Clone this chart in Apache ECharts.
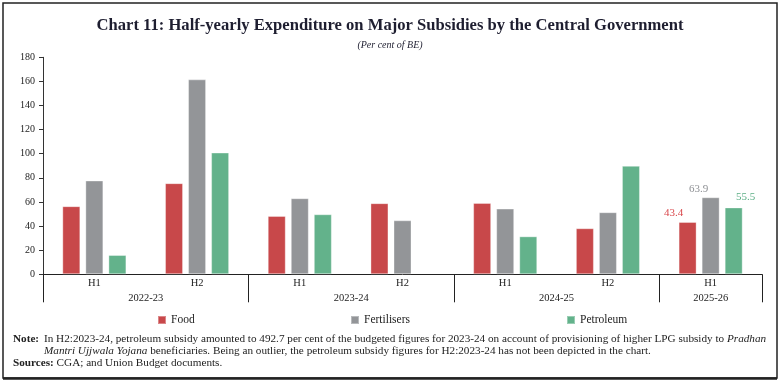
<!DOCTYPE html>
<html>
<head>
<meta charset="utf-8">
<script src="https://cdn.jsdelivr.net/npm/echarts@6/dist/echarts.min.js"></script>
<style>
html,body{margin:0;padding:0;background:#fff;}
#chart{width:780px;height:383px;}
</style>
</head>
<body>
<div id="chart"></div>
<script>
// ---- data ----
var categories = ['H1', 'H2', 'H1', 'H2', 'H1', 'H2', 'H1'];
var yearLabels = ['', '', '2022-23', '', '', '', '2023-24', '', '', '', '2024-25', '', '', '2025-26', ''];
var groupBoundaryIdx = [0, 4, 8, 12, 14];
var food = [56.5, 75.6, 48.4, 59.0, 59.2, 38.2, 43.4];
var fertilisers = [77.8, 161.7, 63.1, 44.8, 54.5, 51.5, 63.9];
var petroleum = [16.0, 101.0, 49.8, null, 31.5, 90.0, 55.5];
var yTicks = [0, 20, 40, 60, 80, 100, 120, 140, 160, 180];
var labelledIndex = 6;

var FONT = '"Liberation Serif", "DejaVu Serif", serif';
var NOTE_SIZE = 11.2;
var colors = {food: '#C8484A', fert: '#939598', petrol: '#63B28B'};

function mk(vals, color, offset, dist) {
  return vals.map(function (v, i) {
    if (i === labelledIndex && v != null) {
      return {value: v, label: {show: true, position: 'top', distance: dist, offset: offset,
        color: color, fontFamily: FONT, fontSize: 11, formatter: function (p) { return p.value.toFixed(1); }}};
    }
    return v;
  });
}

var chart = echarts.init(document.getElementById('chart'), null, {renderer: 'canvas'});
var option = {
  animation: false,
  backgroundColor: '#fff',
  title: [
    {text: 'Chart 11: Half-yearly Expenditure on Major Subsidies by the Central Government',
     left: 'center', top: 12, textStyle: {fontFamily: FONT, fontWeight: 'bold', fontSize: 16.6, color: '#1e1e30'}},
    {text: '(Per cent of BE)', left: 'center', top: 35,
     textStyle: {fontFamily: FONT, fontStyle: 'italic', fontWeight: 'normal', fontSize: 10, color: '#1e1e30'}}
  ],
  grid: {left: 43, right: 18, top: 57.3, bottom: 108.7, containLabel: false},
  legend: [
    {data: ['Food'], left: 157, top: 314, padding: 0, itemWidth: 8, itemHeight: 8, icon: 'rect',
     textStyle: {fontFamily: FONT, fontSize: 11.5, color: '#222'}},
    {data: ['Fertilisers'], left: 350, top: 314, padding: 0, itemWidth: 8, itemHeight: 8, icon: 'rect',
     textStyle: {fontFamily: FONT, fontSize: 11.5, color: '#222'}},
    {data: ['Petroleum'], left: 566, top: 314, padding: 0, itemWidth: 8, itemHeight: 8, icon: 'rect',
     textStyle: {fontFamily: FONT, fontSize: 11.5, color: '#222'}}
  ],
  xAxis: [
    {type: 'category', data: categories, position: 'bottom',
     axisLine: {show: true, lineStyle: {color: '#222', width: 1}},
     axisTick: {show: false},
     axisLabel: {margin: 3, fontFamily: FONT, fontSize: 10.5, color: '#222'},
     splitLine: {show: false}},
    {type: 'category', data: yearLabels, position: 'bottom', boundaryGap: false,
     axisLine: {show: false},
     axisTick: {show: true, length: 28, lineStyle: {color: '#222', width: 1},
       interval: function (i) { return groupBoundaryIdx.indexOf(i) >= 0; }},
     axisLabel: {margin: 18, fontFamily: FONT, fontSize: 10.5, color: '#222',
       interval: function (i, v) { return v !== ''; }},
     splitLine: {show: false}}
  ],
  yAxis: {
    type: 'value', min: yTicks[0], max: yTicks[yTicks.length - 1], interval: 20,
    axisLine: {show: true, lineStyle: {color: '#333'}},
    axisTick: {show: true, length: 4, lineStyle: {color: '#333'}},
    axisLabel: {margin: 8, fontFamily: FONT, fontSize: 10, color: '#222'},
    splitLine: {show: false}
  },
  series: [
    {name: 'Food', type: 'bar', xAxisIndex: 0, barWidth: 18, barGap: '28%',
     itemStyle: {color: colors.food, borderColor: 'rgba(255,255,255,0.35)', borderWidth: 1},
     data: mk(food, '#D9474B', [-14, 0], 3)},
    {name: 'Fertilisers', type: 'bar', xAxisIndex: 0, barWidth: 18, barGap: '28%',
     itemStyle: {color: colors.fert, borderColor: 'rgba(255,255,255,0.35)', borderWidth: 1},
     data: mk(fertilisers, '#8E9094', [-12, 0], 2.5)},
    {name: 'Petroleum', type: 'bar', xAxisIndex: 0, barWidth: 18, barGap: '28%',
     itemStyle: {color: colors.petrol, borderColor: 'rgba(255,255,255,0.35)', borderWidth: 1},
     data: mk(petroleum, '#5BAE85', [12, 0], 4.5)}
  ],
  graphic: [
    {type: 'rect', shape: {x: 3, y: 3, width: 774, height: 375}, silent: true,
     style: {fill: 'none', stroke: '#222', lineWidth: 1.5}},
    {type: 'line', shape: {x1: 3, y1: 378.5, x2: 777, y2: 378.5}, silent: true,
     style: {stroke: '#222', lineWidth: 2.5}},
    {type: 'text', left: 13, top: 334, silent: true,
     style: {text: '{b|Note:}', rich: {b: {fontFamily: FONT, fontWeight: 'bold', fontSize: NOTE_SIZE, fill: '#222'}}}},
    {type: 'text', left: 44, top: 334, silent: true,
     style: {text: 'In H2:2023-24, petroleum subsidy amounted to 492.7 per cent of the budgeted figures for 2023-24 on account of provisioning of higher LPG subsidy to {i|Pradhan}',
       font: NOTE_SIZE + 'px ' + FONT, fill: '#222',
       rich: {i: {fontFamily: FONT, fontStyle: 'italic', fontSize: NOTE_SIZE, fill: '#222'}}}},
    {type: 'text', left: 44, top: 346, silent: true,
     style: {text: '{i|Mantri Ujjwala Yojana} beneficiaries. Being an outlier, the petroleum subsidy figures for H2:2023-24 has not been depicted in the chart.',
       font: NOTE_SIZE + 'px ' + FONT, fill: '#222',
       rich: {i: {fontFamily: FONT, fontStyle: 'italic', fontSize: NOTE_SIZE, fill: '#222'}}}},
    {type: 'text', left: 13, top: 358, silent: true,
     style: {text: '{b|Sources:} CGA; and Union Budget documents.',
       font: NOTE_SIZE + 'px ' + FONT, fill: '#222',
       rich: {b: {fontFamily: FONT, fontWeight: 'bold', fontSize: NOTE_SIZE, fill: '#222'}}}}
  ]
};
chart.setOption(option);
</script>
</body>
</html>
